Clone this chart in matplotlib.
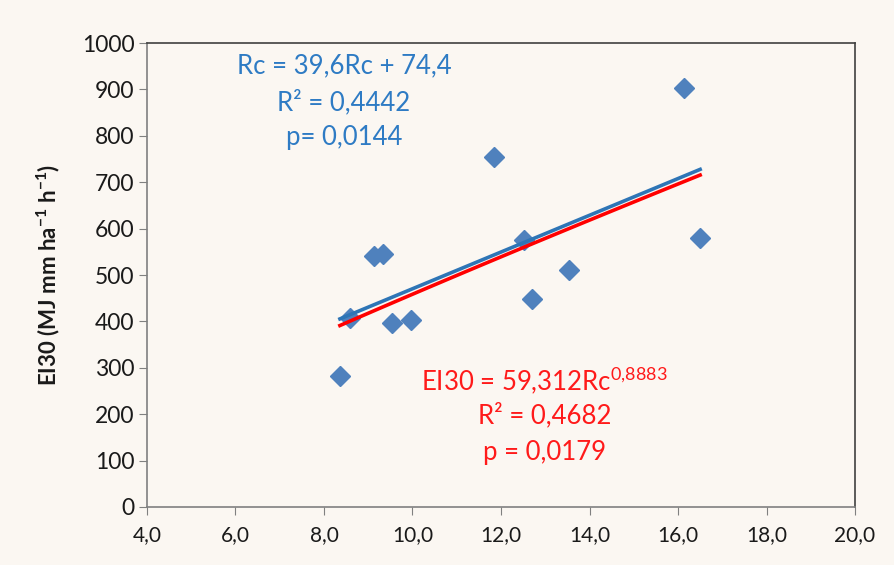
import numpy as np
import matplotlib
matplotlib.use("Agg")
import matplotlib.pyplot as plt

plt.rcParams['font.family'] = ['Lato', 'DejaVu Sans']

# data
rc = [8.36, 8.59, 9.13, 9.33, 9.54, 9.97, 11.84, 12.52, 12.70, 13.54, 16.14, 16.50]
ei30 = [282, 407, 541, 545, 397, 403, 754, 575, 448, 511, 903, 580]

# fitted equations as printed on the chart
lin_a, lin_b = 39.6, 74.4
pow_a, pow_b = 59.312, 0.8883

xticks = [4, 6, 8, 10, 12, 14, 16, 18, 20]
yticks = [0, 100, 200, 300, 400, 500, 600, 700, 800, 900, 1000]

bg = '#FBF7F2'
fig = plt.figure(figsize=(8.94, 5.65), dpi=100, facecolor=bg)
ax = fig.add_axes([0.1644, 0.1027, 0.792, 0.821])
ax.set_facecolor(bg)

ax.plot(rc, ei30, linestyle='none', marker='D', markersize=10,
        color='#4F81BD', zorder=2)

xs = np.linspace(min(rc), max(rc), 50)
ax.plot(xs, lin_a * xs + lin_b, color='#2E75B6', linewidth=2.6, zorder=3)
ax.plot(xs, pow_a * xs ** pow_b, color='#FF0000', linewidth=2.6, zorder=3)

ax.set_xlim(4, 20)
ax.set_ylim(0, 1000)
ax.set_xticks(xticks)
ax.set_xticklabels([f"{v:.1f}".replace('.', ',') for v in xticks])
ax.set_yticks(yticks)
ax.set_yticklabels([str(v) for v in yticks])
ax.tick_params(direction='out', length=6, color='#808080',
               labelcolor='#1A1A1A', pad=4)
ax.tick_params(axis='y', labelsize=16.5, pad=3)
ax.tick_params(axis='x', labelsize=15, pad=7)

for s in ['left', 'bottom']:
    ax.spines[s].set_color('#808080')
for s in ['top', 'right']:
    ax.spines[s].set_color('#404040')
for s in ax.spines.values():
    s.set_linewidth(1.2)

ax.set_ylabel('EI30 (MJ mm ha$^{\\mathregular{-1}}$ h$^{\\mathregular{-1}}$)',
              fontsize=16, fontweight='bold', color='#1A1A1A', labelpad=14)

blue_txt = '#2E7BC4'
ax.text(8.45, 952, 'Rc = 39,6Rc + 74,4', color=blue_txt, fontsize=18.5,
        ha='center', va='center')
ax.text(8.45, 873, 'R² = 0,4442', color=blue_txt, fontsize=18.5,
        ha='center', va='center')
ax.text(8.45, 797, 'p= 0,0144', color=blue_txt, fontsize=18.5,
        ha='center', va='center')

red_txt = '#FF1A1A'
ax.text(12.99, 274, 'EI30 = 59,312Rc$^{\\mathregular{0{,}8883}}$', color=red_txt,
        fontsize=18.5, ha='center', va='center')
ax.text(12.99, 198, 'R² = 0,4682', color=red_txt, fontsize=18.5,
        ha='center', va='center')
ax.text(12.99, 118, 'p = 0,0179', color=red_txt, fontsize=18.5,
        ha='center', va='center')

plt.savefig('out.png', dpi=100, facecolor=bg)
